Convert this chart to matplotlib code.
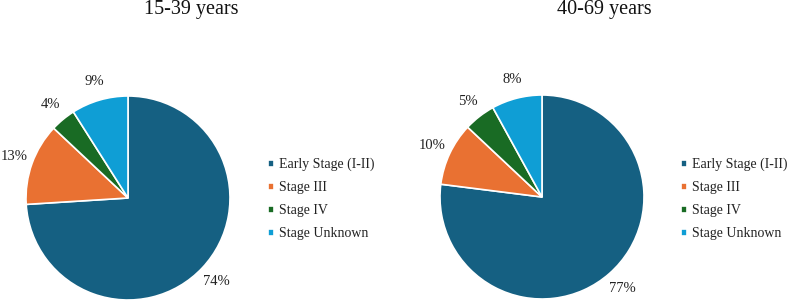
import matplotlib.pyplot as plt

plt.rcParams["font.family"] = ["Liberation Serif", "DejaVu Serif"]

# data
stages = ["Early Stage (I-II)", "Stage III", "Stage IV", "Stage Unknown"]
young = [74, 13, 4, 9]
older = [77, 10, 5, 8]
titles = ["15-39 years", "40-69 years"]
colors = ["#156082", "#E97132", "#196B24", "#0F9ED5"]

W, H = 787, 302
fig = plt.figure(figsize=(W / 100, H / 100), dpi=100)


def draw_pie(values, center, radius, legend_xy, title_x, title):
    cx, cy = center
    ax = fig.add_axes([(cx - radius) / W, (H - cy - radius) / H,
                       2 * radius / W, 2 * radius / H])
    wedges, texts = ax.pie(values, colors=colors, startangle=90, counterclock=False,
                           labels=[f"{v}%" for v in values], labeldistance=1.19,
                           wedgeprops=dict(edgecolor="white", linewidth=1.2),
                           textprops=dict(fontsize=10.5, color="#222222"))
    for t in texts:
        t.set_ha("center")
    ax.set_xlim(-1, 1)
    ax.set_ylim(-1, 1)
    ax.set_aspect("equal")

    fig.legend(wedges, stages, loc="upper left",
               bbox_to_anchor=(legend_xy[0] / W, 1 - legend_xy[1] / H),
               frameon=False, fontsize=10, handlelength=0.4, handleheight=0.4,
               handletextpad=0.4, labelspacing=0.72, borderpad=0, borderaxespad=0,
               labelcolor="#222222")
    fig.text(title_x / W, 1 - 14 / H, title, ha="center", va="baseline",
             fontsize=14.5, color="#111111")


draw_pie(young, (128, 198), 102, (268, 158), 191, titles[0])
draw_pie(older, (542, 197), 102, (681, 158), 604, titles[1])

fig.savefig("out.png", dpi=100)
